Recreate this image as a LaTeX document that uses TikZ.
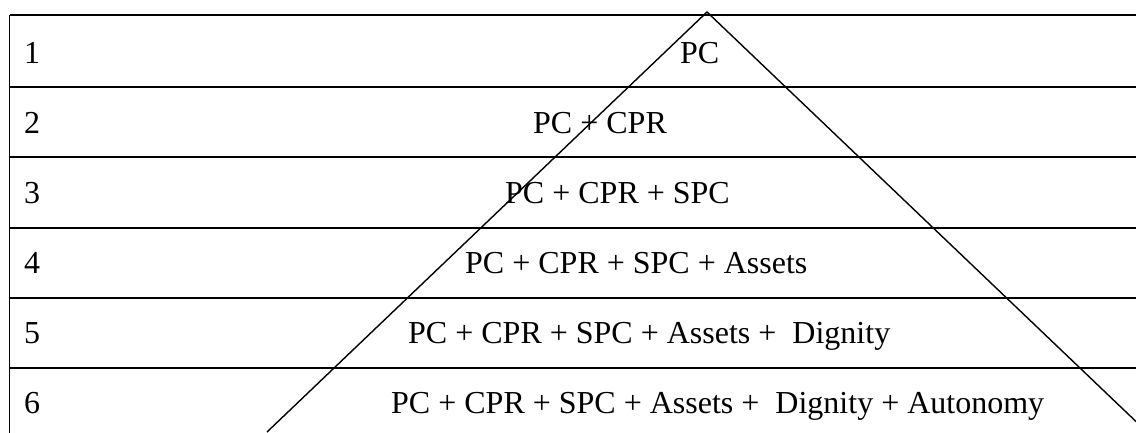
\documentclass[tikz,border=0pt]{standalone}
\usepackage{fontspec}
\setmainfont{Liberation Serif}
\begin{document}
\begin{tikzpicture}[x=1pt,y=-1pt,
  rule/.style={line width=1.4pt},
  lbl/.style={anchor=base west,inner sep=0pt,font=\fontsize{32}{38}\selectfont}]
\useasboundingbox (0,0) rectangle (1136,432);
\clip (0,0) rectangle (1136,432);
% table rules
\coordinate (tl) at (9.5,15);
\coordinate (bl) at (9.5,440);
\draw[rule] (tl) -- (bl);
\foreach \y in {15,87,157,228,298,368}{
  \draw[rule] (9.5,\y) -- (1140,\y);
}
% row numbers
\node[lbl] (n1) at (24,63) {1};
\node[lbl] (n2) at (24,133) {2};
\node[lbl] (n3) at (24,203) {3};
\node[lbl] (n4) at (24,273) {4};
\node[lbl] (n5) at (24,343) {5};
\node[lbl] (n6) at (24,413) {6};
% row texts
\node[lbl] (t1) at (680,63) {PC};
\node[lbl] (t2) at (533,133) {PC + CPR};
\node[lbl] (t3) at (505,203) {PC + CPR + SPC};
\node[lbl] (t4) at (465,273) {PC + CPR + SPC + Assets};
\node[lbl] (t5) at (408,343) {PC + CPR + SPC + Assets +\ \ Dignity};
\node[lbl] (t6) at (391,413) {PC + CPR + SPC + Assets +\ \ Dignity + Autonomy};
% pyramid
\coordinate (apex) at (707,12);
\coordinate (baseL) at (267,432);
\coordinate (baseR) at (1147,432);
\draw[rule,line join=miter] (baseL) -- (apex) -- (baseR);
\end{tikzpicture}
\end{document}
